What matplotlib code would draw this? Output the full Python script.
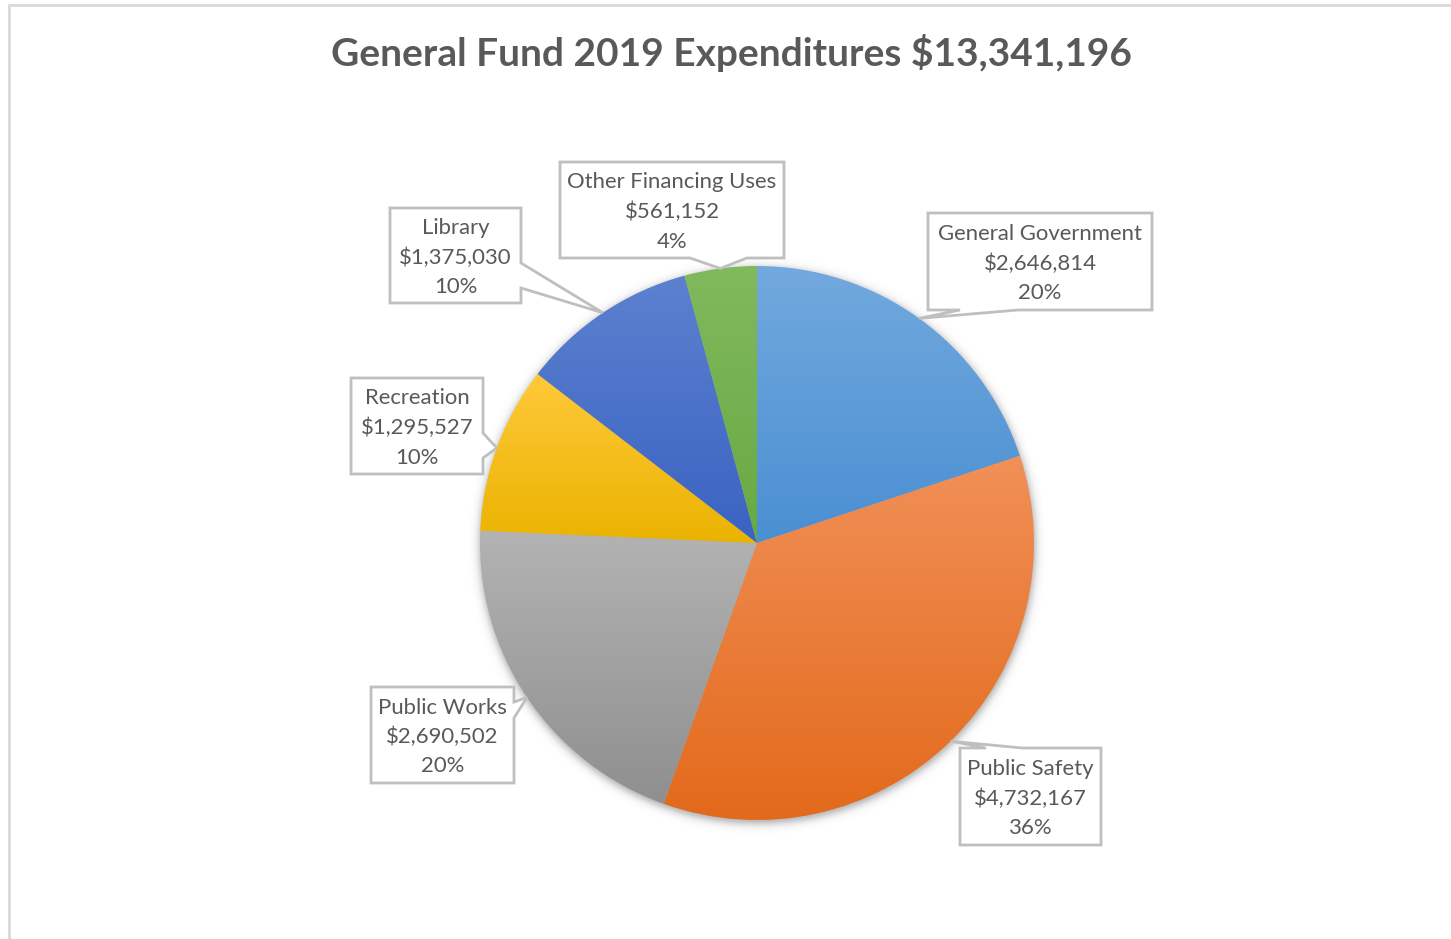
import numpy as np
import matplotlib
matplotlib.use("Agg")
from matplotlib import pyplot as plt
from matplotlib.colors import LinearSegmentedColormap
from matplotlib.patches import Polygon

categories = ["General Government", "Public Safety", "Public Works",
              "Recreation", "Library", "Other Financing Uses"]
amounts = [2646814, 4732167, 2690502, 1295527, 1375030, 561152]
title = "General Fund 2019 Expenditures $13,341,196"

# top / bottom colour of each slice's vertical gradient
grad_colors = [("#72A9DE", "#4A8FD2"), ("#F19058", "#E3691A"),
               ("#B3B3B3", "#8F8F8F"), ("#FFC93A", "#EBB300"),
               ("#5C81CF", "#3A63C2"), ("#81B95D", "#68A943")]

W, H = 1451, 939
cx, cy, R = 757, H - 543, 277
TEXT = "#595959"
EDGE = "#BFBFBF"
FONT = "Lato"

# callout boxes (x0, y0_top, x1, y1_bottom) in pixels from the top-left,
# side the pointer leaves from and the pointer base along that side
boxes = [
    ((928, 213, 1152, 310), "bottom", (960, 1018)),
    ((960, 748, 1101, 845), "top", (986, 1022)),
    ((371, 687, 514, 783), "right", (702, 718)),
    ((351, 378, 483, 474), "right", (433, 458)),
    ((390, 208, 521, 303), "right", (263, 288)),
    ((560, 162, 784, 258), "bottom", (690, 747)),
]

fig = plt.figure(figsize=(W / 100, H / 100), dpi=100)
ax = fig.add_axes([0, 0, 1, 1])

wedges, _ = ax.pie(amounts, startangle=90, counterclock=False,
                   center=(cx, cy), radius=R, frame=True,
                   wedgeprops=dict(linewidth=0))

# soft drop shadow under the pie
yy, xx = np.mgrid[H:0:-1, 0:W]
d = np.hypot(xx - cx, yy - (cy - 2))
alpha = 0.45 / (1 + np.exp((d - (R + 1)) / 2.5))
shadow = np.zeros((H, W, 4))
shadow[..., :3] = 0.25
shadow[..., 3] = alpha
ax.imshow(shadow, extent=(0, W, 0, H), zorder=0.5, interpolation="bilinear")

# gradient fill clipped to each wedge
for w, (top, bot) in zip(wedges, grad_colors):
    w.set_facecolor("none")
    w.set_zorder(1)
    verts = w.get_path().vertices
    verts = w.get_patch_transform().transform(verts)
    x0, x1 = verts[:, 0].min(), verts[:, 0].max()
    y0, y1 = verts[:, 1].min(), verts[:, 1].max()
    cmap = LinearSegmentedColormap.from_list("g", [bot, top])
    grad = np.linspace(0, 1, 256)[::-1].reshape(-1, 1)
    im = ax.imshow(grad, cmap=cmap, extent=(x0, x1, y0, y1),
                   aspect="auto", zorder=1, interpolation="bilinear")
    im.set_clip_path(w)

total = sum(amounts)


def callout(box, side, base, tip):
    x0, t, x1, b = box
    yt, yb = H - t, H - b
    if side == "bottom":
        pts = [(x0, yt), (x1, yt), (x1, yb), (base[1], yb), tip,
               (base[0], yb), (x0, yb)]
    elif side == "top":
        pts = [(x0, yt), (base[0], yt), tip, (base[1], yt), (x1, yt),
               (x1, yb), (x0, yb)]
    else:
        pts = [(x0, yt), (x1, yt), (x1, H - base[0]), tip,
               (x1, H - base[1]), (x1, yb), (x0, yb)]
    ax.add_patch(Polygon(pts, closed=True, facecolor="white",
                         edgecolor=EDGE, linewidth=2, zorder=3,
                         joinstyle="miter"))


for w, name, amt, (box, side, base) in zip(wedges, categories, amounts, boxes):
    mid = np.deg2rad((w.theta1 + w.theta2) / 2)
    tip = (cx + R * np.cos(mid), cy + R * np.sin(mid))
    callout(box, side, base, tip)
    bx = (box[0] + box[2]) / 2
    by = H - (box[1] + box[3]) / 2 - 2
    lines = [name, f"${amt:,}", f"{amt / total:.0%}"]
    for k, s in enumerate(lines):
        ax.text(bx, by + (1 - k) * 29.5, s, ha="center", va="center",
                fontsize=15.9, color=TEXT, family=FONT, zorder=4)

ax.text(731, H - 53, title, ha="center", va="center", fontsize=28,
        fontweight="bold", color=TEXT, family=FONT)

# outer chart border (top and left edges)
ax.plot([9, 9, W], [0, H - 5, H - 5], color="#D9D9D9", linewidth=2,
        solid_joinstyle="miter")

ax.set_xlim(0, W)
ax.set_ylim(0, H)
ax.set_aspect("equal")
ax.axis("off")

fig.savefig("out.png", dpi=100)
